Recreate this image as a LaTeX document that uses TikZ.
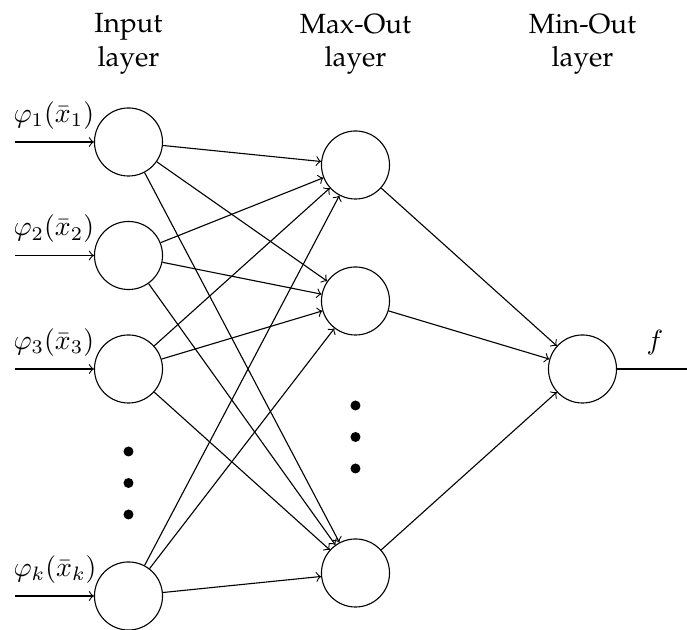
\documentclass[tikz,border=0pt]{standalone}
\begin{document}
\begin{tikzpicture}[x=0.36pt,y=-0.36pt,
  neuron/.style={circle,draw,minimum size=24.5pt,inner sep=0pt},
  hdr/.style={font=\usefont{OT1}{ppl}{m}{n},align=center,anchor=north,inner sep=0pt},
  lbl/.style={anchor=south west,inner sep=0pt},
  conn/.style={->},
  dot/.style={circle,fill,inner sep=0pt,minimum size=3.6pt}]
\useasboundingbox (0,0) rectangle (687,630);
% headers
\node[hdr] (h1) at (128.5,13) {Input\\layer};
\node[hdr] (h2) at (355.5,13) {Max-Out\\layer};
\node[hdr] (h3) at (582.5,13) {Min-Out\\layer};
% input layer
\node[neuron] (i1) at (128.5,142) {};
\node[neuron] (i2) at (128.5,255.5) {};
\node[neuron] (i3) at (128.5,369) {};
\node[neuron] (ik) at (128.5,596) {};
\node[dot] (d1) at (128.5,451.5) {};
\node[dot] (d2) at (128.5,483) {};
\node[dot] (d3) at (128.5,514.5) {};
% max-out layer
\node[neuron] (m1) at (355.5,165) {};
\node[neuron] (m2) at (355.5,301) {};
\node[neuron] (m3) at (355.5,573) {};
\node[dot] (e1) at (355.5,405.5) {};
\node[dot] (e2) at (355.5,437) {};
\node[dot] (e3) at (355.5,468.5) {};
% min-out layer
\node[neuron] (n) at (582.5,369) {};
% inputs
\coordinate (s1) at (15,142);
\coordinate (s2) at (15,255.5);
\coordinate (s3) at (15,369);
\coordinate (sk) at (15,596);
\node[lbl] (l1) at (13,130) {$\varphi_1(\bar{x}_1)$};
\node[lbl] (l2) at (13,243.5) {$\varphi_2(\bar{x}_2)$};
\node[lbl] (l3) at (13,357) {$\varphi_3(\bar{x}_3)$};
\node[lbl] (lk) at (13,584) {$\varphi_k(\bar{x}_k)$};
\foreach \s/\t in {s1/i1,s2/i2,s3/i3,sk/ik} \draw[conn] (\s) -- (\t);
% connections
\foreach \a in {i1,i2,i3,ik}
  \foreach \b in {m1,m2,m3}
    \draw[conn] (\a) -- (\b);
\foreach \b in {m1,m2,m3} \draw[conn] (\b) -- (n);
% output
\coordinate (o) at (687,369);
\draw (n) -- (o);
\node[anchor=base,inner sep=0pt] (f) at (655,350) {$f$};
\end{tikzpicture}
\end{document}
